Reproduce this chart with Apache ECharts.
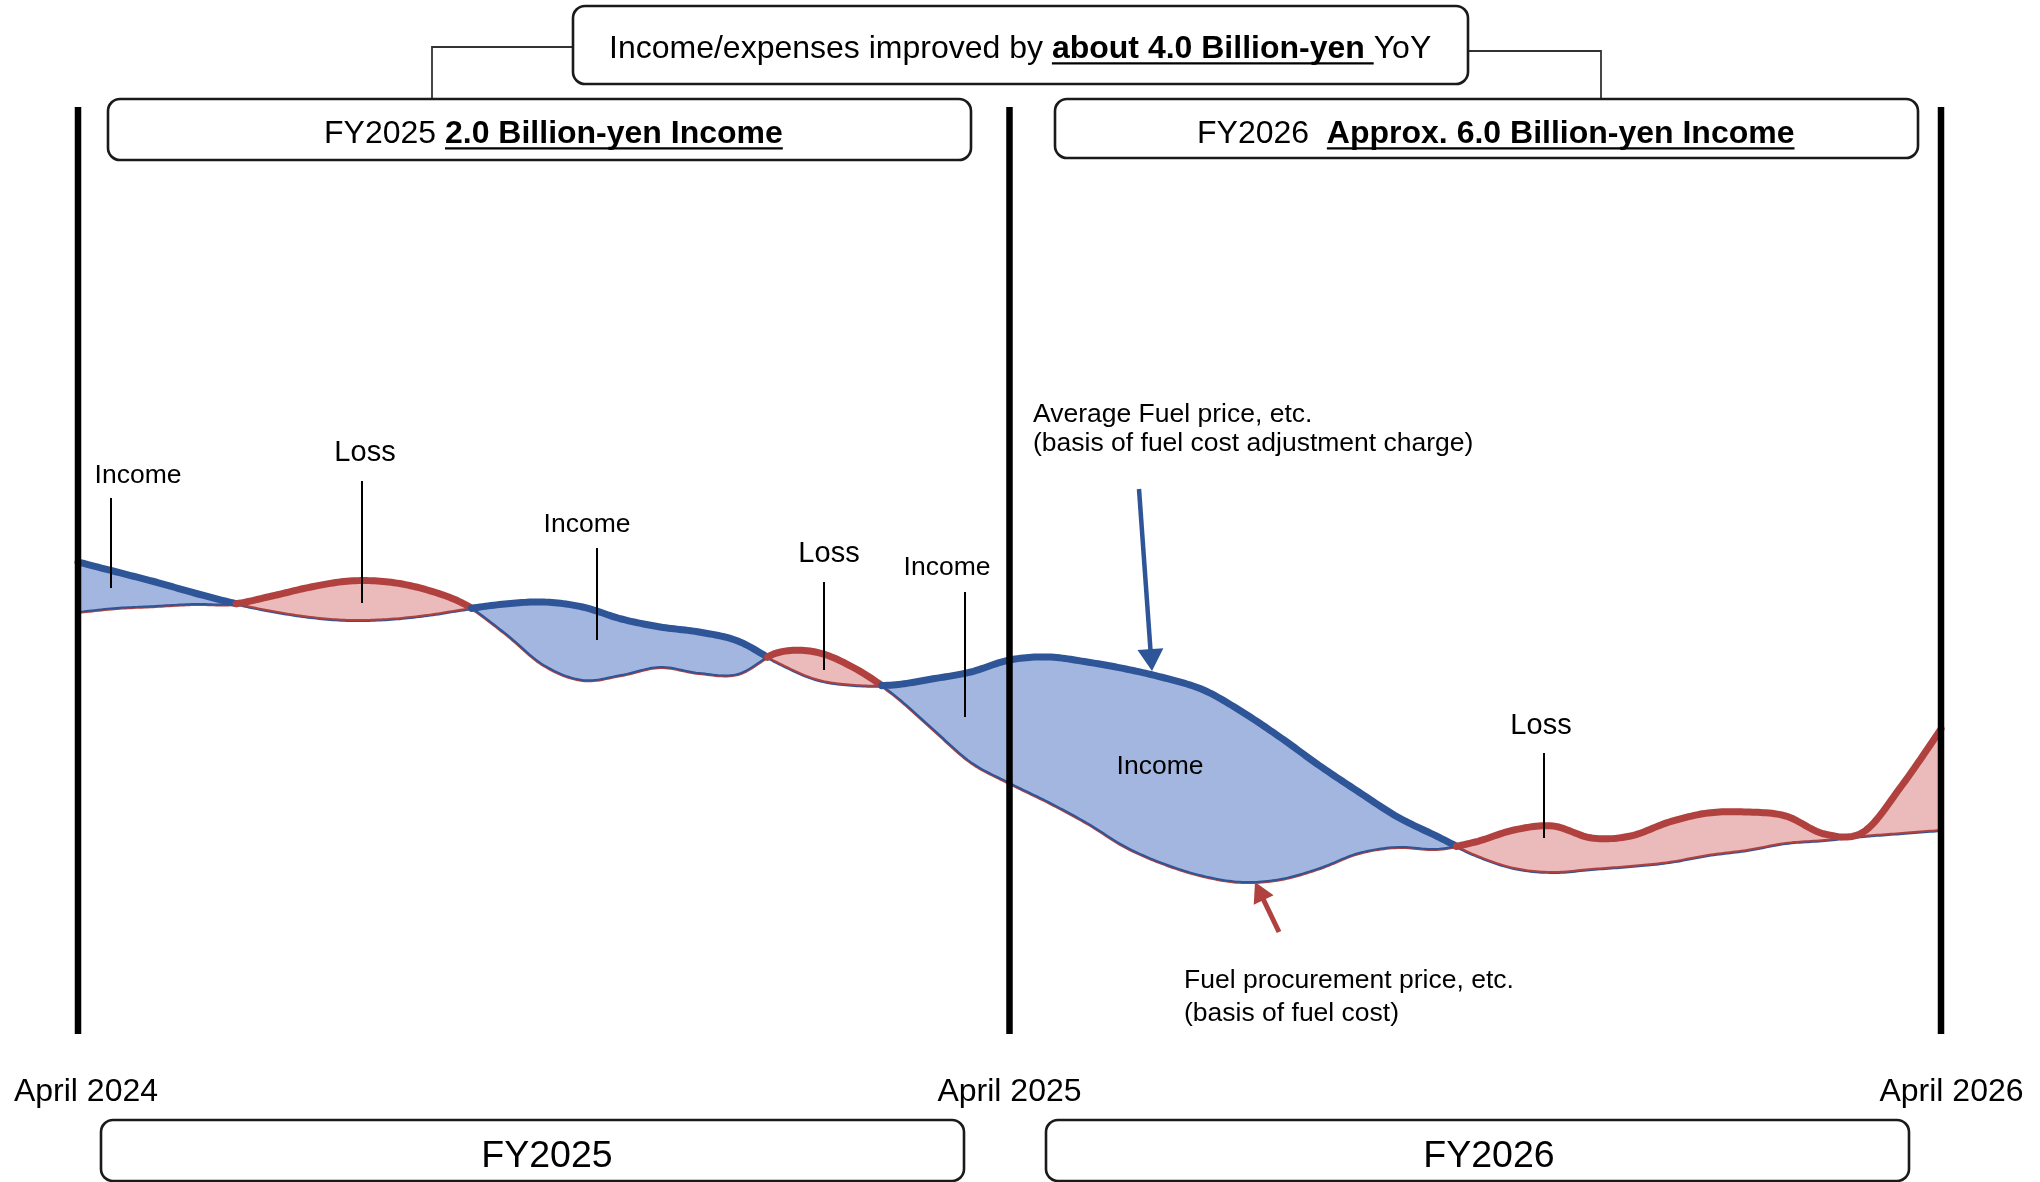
<!DOCTYPE html>
<html><head><meta charset="utf-8">
<script src="https://cdn.jsdelivr.net/npm/echarts@6/dist/echarts.min.js"></script>
<style>html,body{margin:0;padding:0;background:#fff}#c{width:2040px;height:1182px}</style>
</head><body><div id="c"></div>
<script>
// ---- data (x: months from April 2024; y: relative price level, arbitrary units) ----
const months = [0,0.5,1,1.5,2,2.5,3,3.5,4,4.5,5,5.5,6,6.5,7,7.5,8,8.5,9,9.5,10,10.5,11,11.5,12,12.5,13,13.5,14,14.5,15,15.5,16,16.5,17,17.5,18,18.5,19,19.5,20,20.5,21,21.5,22,22.5,23,23.5,24];
const avgFuelPrice = [472,462,452,441,431,423,417,414,415,419,425,430,432,427,415,407,402,393,372,355,349,349,355,362,374,377,372,365,356,344,322,296,268,242,217,198,179,166,162,165,168,172,179,184,191,194,198,201,204];
const procurementPrice = [422,426,428,430,430,438,447,453,452,444,429,401,369,354,359,367,361,360,381,382,366,340,306,272,251,232,211,187,170,158,152,155,166,181,187,185,192,204,208,196,198,212,221,222,218,200,202,249,305];
const tickLabels = ['April 2024','April 2025','April 2026'];
const dividerMonths = [0,12,24];
const periodLabels = ['FY2025','FY2026'];

const FONT = '"Liberation Sans", Arial, Helvetica, sans-serif';
const BLUE = '#2e5597', RED = '#b0413e', BLUE_FILL = '#a3b6df', RED_FILL = '#ebbaba';
const YMAX = 926;
const TDY = 3;

const cv = document.createElement('canvas').getContext('2d');
function tw(t, size, bold){ cv.font = (bold?'bold ':'') + size + 'px ' + FONT; return cv.measureText(t).width; }
function txt(x, y, t, size, opts){
  opts = opts || {};
  return {type:'text', x:x, y:y+TDY, z: 20, style:{text:t, font:(opts.bold?'bold ':'')+size+'px '+FONT, fill:'#000',
    textAlign:opts.align||'left', align:opts.align||'left', textVerticalAlign:'middle', verticalAlign:'middle'}};
}
function richLine(x, y, parts, size, align){
  const w = parts.map(p=>tw(p.t,size,p.b));
  const total = w.reduce((a,b)=>a+b,0);
  let cx = align==='center' ? x-total/2 : x;
  const els = [];
  parts.forEach((p,i)=>{
    els.push(txt(cx, y, p.t, size, {bold:p.b}));
    if (p.u) els.push({type:'line', z:20, shape:{x1:cx, y1:y+TDY+size*0.45, x2:cx+w[i], y2:y+TDY+size*0.45}, style:{stroke:'#000', lineWidth:2.3}});
    cx += w[i];
  });
  return els;
}
function box(x, y, w, h){
  return {type:'rect', z:10, shape:{x:x, y:y, width:w, height:h, r:12}, style:{fill:'#fff', stroke:'#1a1a1a', lineWidth:2.6}};
}
function vline(x, y1, y2, w){ return {type:'line', z:20, shape:{x1:x,y1:y1,x2:x,y2:y2}, style:{stroke:'#000', lineWidth:w||2}}; }
function arrow(x1,y1,x2,y2,color,w,hl,hw){
  const dx=x2-x1, dy=y2-y1, L=Math.hypot(dx,dy), ux=dx/L, uy=dy/L;
  const bx=x2-ux*hl, by=y2-uy*hl;
  return [
    {type:'line', z:20, shape:{x1:x1,y1:y1,x2:bx+ux*2,y2:by+uy*2}, style:{stroke:color,lineWidth:w}},
    {type:'polygon', z:20, shape:{points:[[x2,y2],[bx-uy*hw/2, by+ux*hw/2],[bx+uy*hw/2, by-ux*hw/2]]}, style:{fill:color}}
  ];
}

const graphics = [].concat(
  // connectors
  [{type:'polyline', z:5, shape:{points:[[574,47],[432,47],[432,100]]}, style:{stroke:'#333', lineWidth:1.8, fill:null}},
   {type:'polyline', z:5, shape:{points:[[1466,51],[1601,51],[1601,100]]}, style:{stroke:'#333', lineWidth:1.8, fill:null}}],
  [box(573,6,895,78)],
  richLine(609, 46, [{t:'Income/expenses improved by '},{t:'about 4.0 Billion-yen ',b:true,u:true},{t:'YoY'}], 32, 'left'),
  [box(108,99,863,61), box(1055,99,863,59)],
  richLine(324, 131, [{t:'FY2025 '},{t:'2.0 Billion-yen Income',b:true,u:true}], 32, 'left'),
  richLine(1197, 131, [{t:'FY2026  '},{t:'Approx. 6.0 Billion-yen Income',b:true,u:true}], 32, 'left'),
  [box(101,1120,863,61), box(1046,1120,863,61)],
  [txt(547,1154,periodLabels[0],37.5,{align:'center'}), txt(1489,1154,periodLabels[1],37.5,{align:'center'})],
  // curve annotations
  [txt(138,473,'Income',26.5,{align:'center'}), vline(111,498,588),
   txt(365,450,'Loss',29,{align:'center'}), vline(362,481,603),
   txt(587,522,'Income',26.5,{align:'center'}), vline(597,548,640),
   txt(829,551,'Loss',29,{align:'center'}), vline(824,582,670),
   txt(947,565,'Income',26.5,{align:'center'}), vline(965,592,717),
   {type:'rect', z:15, shape:{x:1113,y:746,width:94,height:40}, style:{fill:BLUE_FILL}},
   txt(1160,764,'Income',26.5,{align:'center'}),
   txt(1541,723,'Loss',29,{align:'center'}), vline(1544,753,838),
   txt(1033,412,'Average Fuel price, etc.',26.5),
   txt(1033,441,'(basis of fuel cost adjustment charge)',26.5),
   txt(1184,978,'Fuel procurement price, etc.',26.5),
   txt(1184,1011,'(basis of fuel cost)',26.5)],
  arrow(1139,489,1152,671,BLUE,4.5,22,26),
  arrow(1279,932,1255,882,RED,5,20,22)
);

function catmull(P, steps){
  const out = [];
  const n = P.length;
  for (let i=0;i<n-1;i++){
    const p0=P[Math.max(i-1,0)], p1=P[i], p2=P[i+1], p3=P[Math.min(i+2,n-1)];
    for (let s=0;s<steps;s++){
      const t=s/steps, t2=t*t, t3=t2*t;
      const f=(a,b,c,d)=>0.5*((2*b)+(-a+c)*t+(2*a-5*b+4*c-d)*t2+(-a+3*b-3*c+d)*t3);
      out.push([f(p0[0],p1[0],p2[0],p3[0]), f(p0[1],p1[1],p2[1],p3[1])]);
    }
  }
  out.push(P[n-1].slice());
  return out;
}

function renderAll(params, api){
  if (params.dataIndex !== 0) return null;
  const n = months.length;
  const Bp=[], Rp=[];
  for (let i=0;i<n;i++){
    const x = api.value(0,i);
    Bp.push(api.coord([x, api.value(1,i)]));
    Rp.push(api.coord([x, api.value(2,i)]));
  }
  const B = catmull(Bp, 14), R = catmull(Rp, 14);
  const regions = [];
  let cur = null;
  for (let j=0;j<B.length;j++){
    const s = B[j][1] <= R[j][1] ? 'blue' : 'red';
    if (!cur){ cur={type:s,b:[B[j]],r:[R[j]]}; continue; }
    if (s !== cur.type){
      const d0=B[j-1][1]-R[j-1][1], d1=B[j][1]-R[j][1];
      const t=d0/(d0-d1);
      const c=[B[j-1][0]+t*(B[j][0]-B[j-1][0]), B[j-1][1]+t*(B[j][1]-B[j-1][1])];
      cur.b.push(c); cur.r.push(c); regions.push(cur);
      cur={type:s,b:[c],r:[c]};
    }
    cur.b.push(B[j]); cur.r.push(R[j]);
  }
  regions.push(cur);
  const children = [];
  children.push({type:'polyline', shape:{points:R}, style:{stroke:RED, lineWidth:4, fill:null, lineJoin:'round'}});
  children.push({type:'polyline', shape:{points:B}, style:{stroke:BLUE, lineWidth:4, fill:null, lineJoin:'round'}});
  regions.forEach(rg=>{
    const isB = rg.type==='blue';
    children.push({type:'polygon', shape:{points:rg.b.concat(rg.r.slice().reverse())},
      style:{fill:isB?BLUE_FILL:RED_FILL, stroke:isB?BLUE:RED, lineWidth:2, lineJoin:'round'}});
  });
  regions.forEach(rg=>{
    const isB = rg.type==='blue';
    children.push({type:'polyline', shape:{points:isB?rg.b:rg.r}, style:{stroke:isB?BLUE:RED, lineWidth:7, fill:null, lineJoin:'round', lineCap:'round'}});
  });
  dividerMonths.forEach(m=>{
    const a=api.coord([m, YMAX]), b=api.coord([m, 0]);
    children.push({type:'line', shape:{x1:a[0],y1:a[1]-1,x2:b[0],y2:b[1]}, style:{stroke:'#000', lineWidth:6.5}});
  });
  return {type:'group', children:children};
}

const labelRich = {
  l0:{fontSize:32, color:'#000', fontFamily:FONT, padding:[0,0,0,16]},
  l1:{fontSize:32, color:'#000', fontFamily:FONT, padding:[0,0,0,0]},
  l2:{fontSize:32, color:'#000', fontFamily:FONT, padding:[0,0,0,21]}
};

const chart = echarts.init(document.getElementById('c'), null, {renderer:'canvas', width:2040, height:1182});
chart.setOption({
  animation:false,
  backgroundColor:'#fff',
  grid:{left:78, right:99, top:108, bottom:148},
  xAxis:{type:'value', min:0, max:24, interval:12,
    axisLine:{show:false}, axisTick:{show:false}, splitLine:{show:false},
    axisLabel:{formatter:v=>{const i=Math.round(v/12); return '{l'+i+'|'+tickLabels[i]+'}';}, rich:labelRich,
      fontSize:32, color:'#000', fontFamily:FONT, margin:42, showMinLabel:true, showMaxLabel:true}},
  yAxis:{type:'value', min:0, max:YMAX, show:false},
  series:[{
    type:'custom', name:'Fuel prices', clip:false,
    encode:{x:0, y:[1,2]},
    data: months.map((m,i)=>[m, avgFuelPrice[i], procurementPrice[i]]),
    renderItem: renderAll, z:2
  }],
  graphic:{elements:graphics}
});
</script>
</body></html>
